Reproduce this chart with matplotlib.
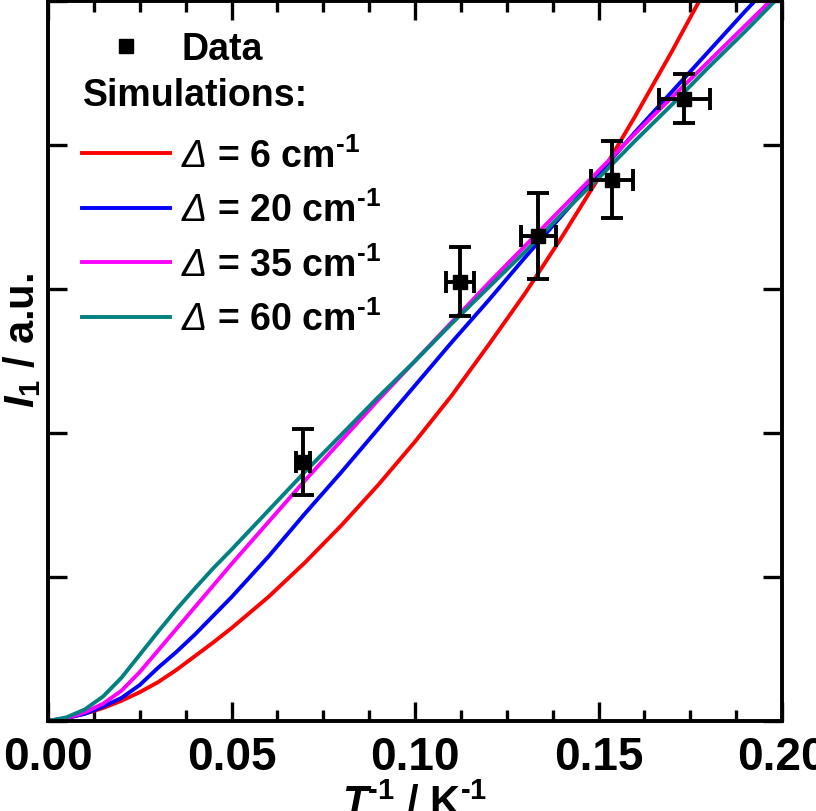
import matplotlib
matplotlib.use("Agg")
import matplotlib.pyplot as plt
from matplotlib.ticker import MultipleLocator, NullFormatter
from matplotlib.lines import Line2D

plt.rcParams["font.family"] = ["Liberation Sans", "DejaVu Sans"]
plt.rcParams["font.weight"] = "bold"
plt.rcParams["axes.labelweight"] = "bold"
plt.rcParams["mathtext.fontset"] = "custom"
plt.rcParams["mathtext.rm"] = "Liberation Sans:bold"
plt.rcParams["mathtext.bf"] = "Liberation Sans:bold"
plt.rcParams["mathtext.it"] = "Liberation Sans:italic:bold"
plt.rcParams["mathtext.sf"] = "Liberation Sans:style=italic:weight=normal"

# measured points
data_x = [0.0695, 0.1123, 0.1336, 0.1537, 0.1734]
data_y = [1.80, 3.05, 3.37, 3.76, 4.32]
data_xerr = [0.0020, 0.0038, 0.0048, 0.0057, 0.0070]
data_yerr = [0.23, 0.24, 0.30, 0.27, 0.17]

# simulated curves
sim_x = [0.0, 0.005, 0.01, 0.015, 0.02, 0.025, 0.03, 0.035, 0.04, 0.045, 0.05, 0.06,
         0.07, 0.08, 0.09, 0.10, 0.11, 0.12, 0.13, 0.14, 0.15, 0.16, 0.17, 0.18, 0.19, 0.20]
sim_6 = [0, 0.02, 0.05, 0.09, 0.14, 0.20, 0.27, 0.355, 0.45, 0.545, 0.645, 0.86, 1.10, 1.36,
         1.64, 1.94, 2.26, 2.61, 2.97, 3.36, 3.77, 4.20, 4.65, 5.12, 5.6, 6.1]
sim_20 = [0, 0.02, 0.05, 0.10, 0.16, 0.25, 0.37, 0.48, 0.60, 0.73, 0.86, 1.14, 1.44, 1.73,
          2.03, 2.33, 2.63, 2.92, 3.22, 3.51, 3.80, 4.09, 4.37, 4.65, 4.93, 5.2]
sim_35 = [0, 0.02, 0.06, 0.12, 0.21, 0.34, 0.49, 0.64, 0.79, 0.94, 1.09, 1.38, 1.67, 1.95,
          2.23, 2.50, 2.77, 3.04, 3.30, 3.56, 3.82, 4.08, 4.33, 4.58, 4.83, 5.08]
sim_60 = [0, 0.025, 0.08, 0.17, 0.30, 0.46, 0.62, 0.775, 0.92, 1.06, 1.19, 1.46, 1.73, 1.99,
          2.25, 2.50, 2.76, 3.01, 3.26, 3.52, 3.77, 4.03, 4.28, 4.54, 4.79, 5.05]

labels = ["6", "20", "35", "60"]
colors = ["#ff0000", "#0000ff", "#ff00ff", "#008080"]

fig = plt.figure(figsize=(8.16, 8.12), dpi=100)
ax = fig.add_axes([48 / 816, 1 - 722 / 812, 734 / 816, 720 / 812])

handles = []
for ys, lab, c in zip([sim_6, sim_20, sim_35, sim_60], labels, colors):
    h, = ax.plot(sim_x, ys, color=c, lw=2.8, zorder=2,
                 label=r"$\mathsf{\Delta}$ = " + lab + r" cm$^{\text{-1}}$")
    handles.append(h)

ax.errorbar(data_x, data_y, xerr=data_xerr, yerr=data_yerr, fmt="s", color="black",
            ms=10.5, elinewidth=2.8, capsize=8, capthick=2.8, zorder=3)

ax.set_xlim(0, 0.20)
ax.set_ylim(0, 5)
ax.xaxis.set_major_locator(MultipleLocator(0.05))
ax.xaxis.set_minor_locator(MultipleLocator(0.0125))
ax.yaxis.set_major_locator(MultipleLocator(1))
ax.yaxis.set_major_formatter(NullFormatter())
ax.xaxis.set_major_formatter(plt.FuncFormatter(lambda v, p: f"{v:.2f}"))
ax.tick_params(which="both", direction="in", top=True, right=True, width=2.4)
ax.tick_params(which="major", length=14, labelsize=33, pad=10)
ax.tick_params(which="minor", length=8)
for s in ax.spines.values():
    s.set_linewidth(2.8)

ax.set_xlabel(r"$T$$^{\text{-1}}$ / K$^{\text{-1}}$", fontsize=30)
ax.xaxis.set_label_coords(0.5, -0.085)
ax.set_ylabel(r"$I$$_{1}$ / a.u.", fontsize=30)
ax.yaxis.set_label_coords(-0.007, 0.53)

data_handle = Line2D([], [], ls="none", marker="s", color="black", ms=10.5)
blank = Line2D([], [], ls="none")
leg = ax.legend([data_handle, blank] + handles, ["Data", " "] + [h.get_label() for h in handles],
                loc="upper left", bbox_to_anchor=(0.046, 0.958), frameon=False,
                fontsize=27, handlelength=2.35, handletextpad=0.3,
                labelspacing=0.45, borderpad=0, borderaxespad=0)
ax.text(0.048, 0.87, "Simulations:", transform=ax.transAxes, fontsize=27,
        va="center", ha="left")

fig.savefig("out.png", dpi=100)
